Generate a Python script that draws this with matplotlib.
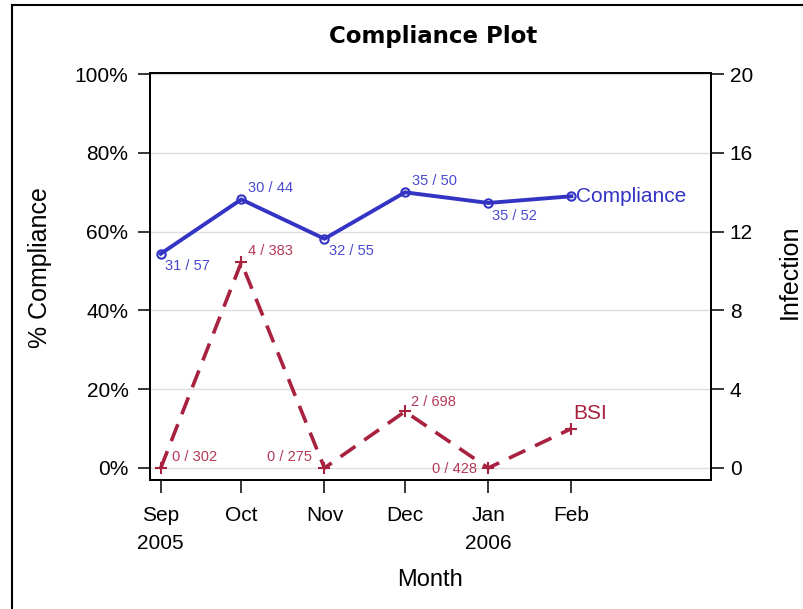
import matplotlib
matplotlib.use("Agg")
import matplotlib.pyplot as plt
from matplotlib.lines import Line2D
from datetime import datetime

plt.rcParams['font.family'] = ['Liberation Sans', 'DejaVu Sans']

months = [datetime(2005, 9, 1), datetime(2005, 10, 1), datetime(2005, 11, 1),
          datetime(2005, 12, 1), datetime(2006, 1, 1), datetime(2006, 2, 1)]
tick_labels = ["Sep\n2005", "Oct", "Nov", "Dec", "Jan\n2006", "Feb"]
compliance = [54.4, 68.2, 58.2, 70.0, 67.3, 69.0]
compliance_labels = ["31 / 57", "30 / 44", "32 / 55", "35 / 50", "35 / 52", ""]
bsi = [0.0, 10.44, 0.0, 2.87, 0.0, 2.0]
bsi_labels = ["0 / 302", "4 / 383", "0 / 275", "2 / 698", "0 / 428", ""]
left_ticks = [0, 20, 40, 60, 80, 100]
right_ticks = [0, 4, 8, 12, 16, 20]

blue = "#3434C4"
blue_txt = "#4A4ACF"
red = "#A8213F"
red_txt = "#B23A58"

fig = plt.figure(figsize=(8.04, 6.09), dpi=100)
ax = fig.add_axes([150/804, 1-480/609, (711-150)/804, (480-73)/609])
ax2 = ax.twinx()

ax.set_ylim(-3.05, 100.3)
ax2.set_ylim(-3.05/5, 100.3/5)
ax.set_xlim(datetime(2005, 8, 28), datetime(2006, 3, 25))

ax.set_yticks(left_ticks)
ax.set_yticklabels([f"{v}%" for v in left_ticks])
ax2.set_yticks(right_ticks)
ax.set_xticks(months)
ax.set_xticklabels(tick_labels, linespacing=1.55)

for y in left_ticks:
    ax.axhline(y, color="#DDDDDD", lw=1, zorder=0)

ax.plot(months, compliance, color=blue, lw=2.8, marker='o', ms=6,
        mfc='none', mec=blue, mew=1.5, zorder=3)
ax2.plot(months, bsi, color=red, lw=2.6, ls=(0, (5, 3)), marker='+', ms=9,
         mew=1.5, zorder=3)

fs_small = 10.5
c_off = [(3, -4, 'left', 'top'), (5, 3, 'left', 'bottom'), (3, -4, 'left', 'top'),
         (5, 3, 'left', 'bottom'), (3, -4, 'left', 'top'), (0, 0, 'left', 'center')]
for x, y, t, (dx, dy, ha, va) in zip(months, compliance, compliance_labels, c_off):
    if t:
        ax.annotate(t, (x, y), xytext=(dx, dy), textcoords='offset points',
                    ha=ha, va=va, fontsize=fs_small, color=blue_txt)
ax.annotate("Compliance", (months[-1], compliance[-1]), xytext=(3, 0),
            textcoords='offset points', ha='left', va='center',
            fontsize=15, color=blue)

b_off = [(8, 3, 'left', 'bottom'), (5, 3, 'left', 'bottom'), (-9, 3, 'right', 'bottom'),
         (4, 2, 'left', 'bottom'), (-24, -1, 'center', 'center'), (0, 0, 'left', 'center')]
for x, y, t, (dx, dy, ha, va) in zip(months, bsi, bsi_labels, b_off):
    if t:
        ax2.annotate(t, (x, y), xytext=(dx, dy), textcoords='offset points',
                     ha=ha, va=va, fontsize=fs_small, color=red_txt)
ax2.annotate("BSI", (months[-1], bsi[-1]), xytext=(1, 4),
             textcoords='offset points', ha='left', va='bottom',
             fontsize=15, color=red)

ax.tick_params(axis='both', labelsize=15, length=9, width=1.1, color='black')
ax2.tick_params(axis='y', labelsize=15, length=9, width=1.1, color='black', pad=4.5)
ax.tick_params(axis='y', pad=6.5)
ax.tick_params(axis='x', pad=10)
for a in (ax, ax2):
    for s in a.spines.values():
        s.set_linewidth(1.3)

fig.text(433/804, 1-37/609, "Compliance Plot", fontsize=16.5, fontweight='bold',
         family=['DejaVu Sans'], ha='center', va='center')
ax.set_ylabel("% Compliance", fontsize=18)
ax.yaxis.set_label_coords(40/804, 1-268/609, transform=fig.transFigure)
ax2.set_ylabel("Infection", fontsize=18)
ax2.yaxis.set_label_coords(790/804, 1-272/609, transform=fig.transFigure)
ax.set_xlabel("Month", fontsize=17)
ax.xaxis.set_label_coords(430/804, 1-580/609, transform=fig.transFigure)
ax.xaxis.label.set_va('center')
ax.yaxis.label.set_va('center')
ax2.yaxis.label.set_va('center')

fig.add_artist(Line2D([12/804, 12/804], [0, 1-5/609], transform=fig.transFigure,
                      color='black', lw=1.5))
fig.add_artist(Line2D([12/804, 1], [1-5/609, 1-5/609], transform=fig.transFigure,
                      color='black', lw=1.5))

fig.savefig("out.png", dpi=100)
